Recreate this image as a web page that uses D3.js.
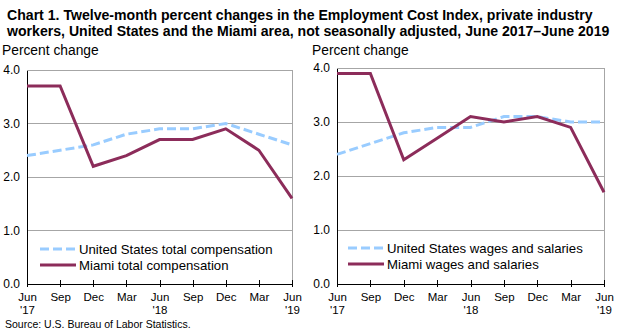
<!DOCTYPE html>
<html><head><meta charset="utf-8">
<script src="https://cdn.jsdelivr.net/npm/d3@7"></script>
<style>body{margin:0;background:#fff}svg{display:block}text{font-family:"Liberation Sans",Arial,sans-serif}</style>
</head><body><svg id="c" width="622" height="333"></svg>
<script>
const quarters = ["Jun '17","Sep","Dec","Mar","Jun '18","Sep","Dec","Mar","Jun '19"];
const tickMonth = ["Jun","Sep","Dec","Mar","Jun","Sep","Dec","Mar","Jun"];
const tickYear = ["'17","","","","'18","","","","'19"];
const yTicks = [0,1,2,3,4];
const usTotal = [2.4,2.5,2.6,2.8,2.9,2.9,3.0,2.8,2.6];
const miamiTotal = [3.7,3.7,2.2,2.4,2.7,2.7,2.9,2.5,1.6];
const usWages = [2.4,2.6,2.8,2.9,2.9,3.1,3.1,3.0,3.0];
const miamiWages = [3.9,3.9,2.3,2.7,3.1,3.0,3.1,2.9,1.7];
const titleLines = ["Chart 1. Twelve-month percent changes in the Employment Cost Index, private industry",
 "workers, United States and the Miami area, not seasonally adjusted, June 2017\u2013June 2019"];

const svg = d3.select("#c");
const blue = "#99ccff", maroon = "#8c2c5a", grid = "#a6a6a6";

svg.selectAll("text.title").data(titleLines).join("text")
  .attr("x",7).attr("y",(d,i)=>20+i*15.5).attr("font-size",14.1).attr("font-weight","bold").text(d=>d);
svg.append("text").attr("x",5).attr("y",328).attr("font-size",10.5).text("Source: U.S. Bureau of Labor Statistics.");

function panel(cfg){
  const g = svg.append("g");
  const x = d3.scalePoint().domain(d3.range(quarters.length)).range([cfg.x0,cfg.x1]);
  const y = d3.scaleLinear().domain([0,4]).range([cfg.yb,cfg.yt]);
  g.append("text").attr("x",cfg.x0-25).attr("y",55).attr("font-size",13.8).text("Percent change");
  g.selectAll("line.grid").data(yTicks.filter(v=>v>0)).join("line")
    .attr("x1",cfg.x0).attr("x2",cfg.x1).attr("y1",d=>y(d)).attr("y2",d=>y(d))
    .attr("stroke",grid).attr("stroke-width",1).attr("shape-rendering","crispEdges");
  g.append("line").attr("x1",cfg.x1).attr("x2",cfg.x1).attr("y1",y(4)).attr("y2",y(0))
    .attr("stroke",grid).attr("shape-rendering","crispEdges");
  const ya = d3.axisLeft(y).tickValues(yTicks).tickFormat(d3.format(".1f")).tickSize(0).tickPadding(7);
  const yg = g.append("g").attr("transform",`translate(${cfg.x0},0)`).call(ya);
  yg.select(".domain").attr("stroke","#000").attr("shape-rendering","crispEdges");
  yg.selectAll("text").attr("font-size",12).attr("fill","#000").attr("font-family","Liberation Sans,Arial,sans-serif");
  const xa = d3.axisBottom(x).tickSize(3).tickFormat(()=>"");
  const xg = g.append("g").attr("transform",`translate(0,${cfg.yb})`).call(xa);
  xg.select(".domain").attr("stroke","#000").attr("d",`M${cfg.x0},0H${cfg.x1}`).attr("shape-rendering","crispEdges");
  xg.selectAll(".tick line").attr("y1",-4).attr("y2",3).attr("stroke","#000").attr("shape-rendering","crispEdges");
  xg.selectAll(".tick").append("text").attr("y",17).attr("fill","#000").attr("font-size",11.5)
    .attr("text-anchor","middle").attr("font-family","Liberation Sans,Arial,sans-serif").text(i=>tickMonth[i]);
  xg.selectAll(".tick").append("text").attr("y",30).attr("fill","#000").attr("font-size",11.5)
    .attr("text-anchor","middle").attr("font-family","Liberation Sans,Arial,sans-serif").text(i=>tickYear[i]);
  const line = d3.line().x((d,i)=>x(i)).y(d=>y(d));
  g.append("path").datum(cfg.us).attr("d",line).attr("fill","none").attr("stroke",blue)
    .attr("stroke-width",3).attr("stroke-dasharray","9,4");
  g.append("path").datum(cfg.mi).attr("d",line).attr("fill","none").attr("stroke",maroon)
    .attr("stroke-width",3).attr("stroke-linejoin","miter");
  const leg = [{t:cfg.usLabel,c:blue,d:"9,4"},{t:cfg.miLabel,c:maroon,d:null}];
  leg.forEach((l,i)=>{
    const yy = cfg.ly + i*16;
    g.append("line").attr("x1",cfg.lx).attr("x2",cfg.lx+36).attr("y1",yy).attr("y2",yy)
      .attr("stroke",l.c).attr("stroke-width",3).attr("stroke-dasharray",l.d);
    g.append("text").attr("x",cfg.lx+39).attr("y",yy+5).attr("font-size",13.2).text(l.t);
  });
}
panel({x0:27,x1:292,yt:70,yb:284,us:usTotal,mi:miamiTotal,
  usLabel:"United States total compensation",miLabel:"Miami total compensation",lx:40,ly:249});
panel({x0:337,x1:604,yt:68,yb:284,us:usWages,mi:miamiWages,
  usLabel:"United States wages and salaries",miLabel:"Miami wages and salaries",lx:348,ly:248});
</script></body></html>
